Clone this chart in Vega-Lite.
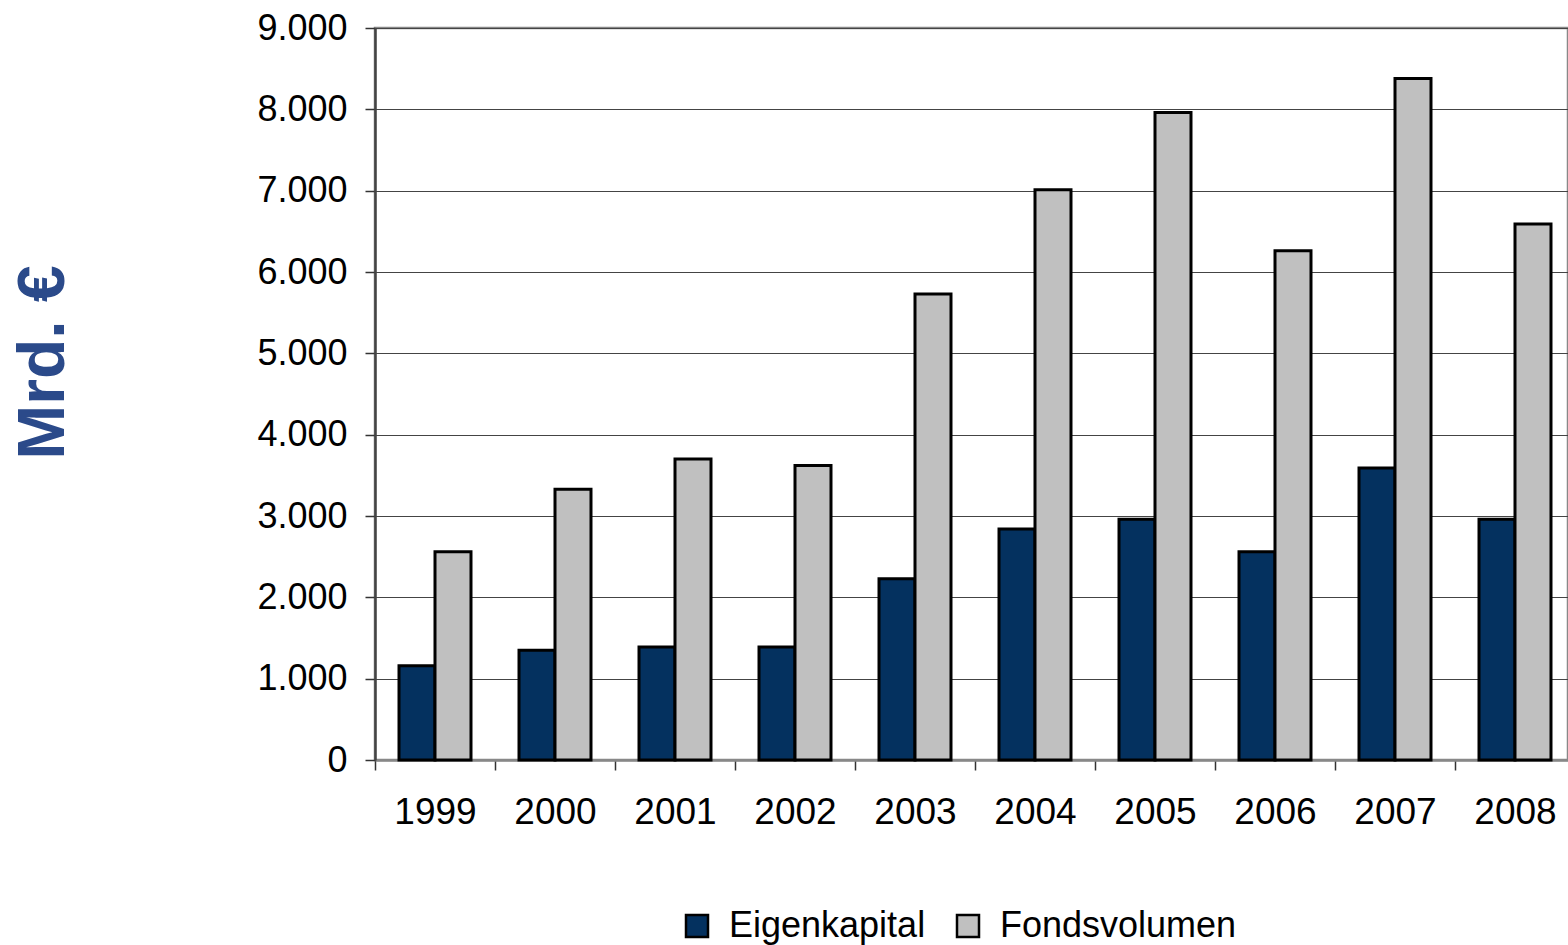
{
  "$schema": "https://vega.github.io/schema/vega-lite/v6.json",
  "width": 1193,
  "height": 732,
  "autosize": "none",
  "padding": {"left": 375, "top": 28, "right": 0, "bottom": 185},
  "background": "white",
  "config": {
    "font": "Liberation Sans",
    "view": {"stroke": "#888888", "strokeWidth": 2.5}
  },
  "data": {
    "values": [
      {"year": "1999", "series": "Eigenkapital", "value": 1160},
      {"year": "1999", "series": "Fondsvolumen", "value": 2560},
      {"year": "2000", "series": "Eigenkapital", "value": 1350},
      {"year": "2000", "series": "Fondsvolumen", "value": 3330},
      {"year": "2001", "series": "Eigenkapital", "value": 1390},
      {"year": "2001", "series": "Fondsvolumen", "value": 3700},
      {"year": "2002", "series": "Eigenkapital", "value": 1390},
      {"year": "2002", "series": "Fondsvolumen", "value": 3620},
      {"year": "2003", "series": "Eigenkapital", "value": 2230},
      {"year": "2003", "series": "Fondsvolumen", "value": 5730},
      {"year": "2004", "series": "Eigenkapital", "value": 2840},
      {"year": "2004", "series": "Fondsvolumen", "value": 7010},
      {"year": "2005", "series": "Eigenkapital", "value": 2960},
      {"year": "2005", "series": "Fondsvolumen", "value": 7960},
      {"year": "2006", "series": "Eigenkapital", "value": 2560},
      {"year": "2006", "series": "Fondsvolumen", "value": 6260},
      {"year": "2007", "series": "Eigenkapital", "value": 3590},
      {"year": "2007", "series": "Fondsvolumen", "value": 8380},
      {"year": "2008", "series": "Eigenkapital", "value": 2960},
      {"year": "2008", "series": "Fondsvolumen", "value": 6590}
    ]
  },
  "mark": {"type": "bar", "stroke": "black", "strokeWidth": 3},
  "encoding": {
    "x": {
      "field": "year",
      "type": "nominal",
      "scale": {"range": [0, 1200], "paddingInner": 0, "paddingOuter": 0},
      "axis": {
        "title": null,
        "labelAngle": 0,
        "labelFontSize": 37,
        "labelColor": "black",
        "labelPadding": 24,
        "tickSize": 10,
        "tickColor": "#333333",
        "tickWidth": 1.5,
        "tickBand": "extent",
        "domainColor": "#888888",
        "domainWidth": 2.5,
        "grid": false
      }
    },
    "xOffset": {
      "field": "series",
      "sort": ["Eigenkapital", "Fondsvolumen"],
      "scale": {"paddingInner": 0, "paddingOuter": 0.667}
    },
    "y": {
      "field": "value",
      "type": "quantitative",
      "scale": {"domain": [0, 9000], "nice": false},
      "axis": {
        "values": [0, 1000, 2000, 3000, 4000, 5000, 6000, 7000, 8000, 9000],
        "labelExpr": "replace(format(datum.value, ','), ',', '.')",
        "labelFontSize": 36,
        "labelColor": "black",
        "labelPadding": 18,
        "tickSize": 10,
        "tickColor": "#333333",
        "tickWidth": 1.5,
        "domainColor": "#444444",
        "domainWidth": 2.5,
        "grid": true,
        "gridColor": "#444444",
        "gridWidth": 1.2,
        "title": "Mrd. €",
        "titleFontSize": 66,
        "titleFontWeight": "bold",
        "titleColor": "#2B4A8A",
        "titleAngle": -90,
        "titleAlign": "center",
        "titleBaseline": "alphabetic",
        "titleX": -312,
        "titleY": 334
      }
    },
    "color": {
      "field": "series",
      "type": "nominal",
      "scale": {"domain": ["Eigenkapital", "Fondsvolumen"], "range": ["#04315F", "#C0C0C0"]},
      "legend": {
        "title": null,
        "orient": "none",
        "direction": "horizontal",
        "legendX": 304,
        "legendY": 880,
        "symbolType": "square",
        "symbolSize": 484,
        "symbolStrokeColor": "black",
        "symbolStrokeWidth": 2.5,
        "labelFontSize": 36,
        "labelLimit": 500,
        "labelColor": "black",
        "labelOffset": 14,
        "columnPadding": 24
      }
    }
  }
}
